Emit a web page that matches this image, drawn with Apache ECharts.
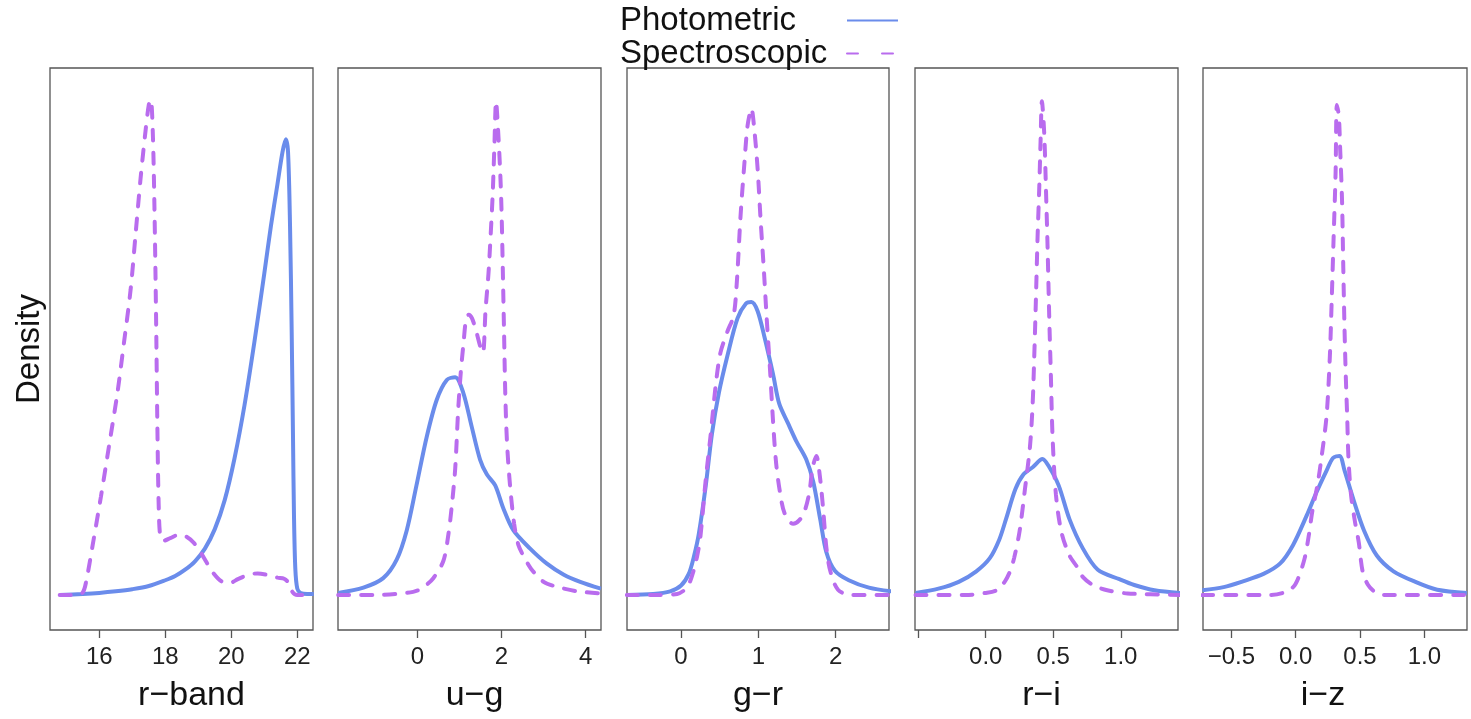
<!DOCTYPE html>
<html><head><meta charset="utf-8">
<script src="https://cdn.jsdelivr.net/npm/echarts@6/dist/echarts.min.js"></script>
<style>html,body{margin:0;padding:0;background:#fff}#c{width:1471px;height:719px}</style>
</head><body><div id="c"></div>
<script>
// ---- data ----
const panelNames = ['r\u2212band', 'u\u2212g', 'g\u2212r', 'r\u2212i', 'i\u2212z'];
const tickValues = [[16, 18, 20, 22], [0, 2, 4], [0, 1, 2], [-0.5, 0, 0.5, 1], [-0.5, 0, 0.5, 1]];
const labelValues = [[16, 18, 20, 22], [0, 2, 4], [0, 1, 2], [0, 0.5, 1], [-0.5, 0, 0.5, 1]];
const seriesNames = ['Photometric', 'Spectroscopic'];

const rbandPhot = [[14.8,0],[15.5,0.2],[16,0.4],[16.5,0.7],[17,1.1],[17.5,1.7],[18,2.8],[18.3,3.6],[18.6,4.8],[18.9,6.4],[19.2,8.8],[19.5,12.5],[19.8,18],[20.1,26],[20.4,36],[20.7,48],[21.0,61],[21.2,70],[21.4,78],[21.55,84],[21.65,86.5],[21.72,84],[21.78,70],[21.83,50],[21.87,30],[21.9,15],[21.94,5],[22.0,1.2],[22.1,0.4],[22.3,0.2],[22.5,0.2]];
const rbandSpec = [[14.8,0],[15.3,0],[15.5,0.5],[15.6,2.5],[15.8,9.5],[16.05,18.7],[16.3,28.5],[16.55,38.4],[16.75,48],[16.95,58],[17.1,68.5],[17.25,79],[17.4,88],[17.5,93],[17.56,94],[17.62,88],[17.67,74],[17.72,53],[17.76,32],[17.8,17],[17.85,11],[17.95,10.3],[18.15,10.8],[18.4,11.4],[18.6,11.2],[18.85,10],[19.05,8.3],[19.25,6.2],[19.45,4.2],[19.7,2.6],[19.95,2.3],[20.2,3],[20.5,3.8],[20.8,4.1],[21.1,3.8],[21.4,3.3],[21.6,3.1],[21.75,2.2],[21.85,0.6],[22,0],[22.2,0]];

const ugPhot = [[-1.88,0.4],[-1.28,1.4],[-0.81,3.2],[-0.49,6.7],[-0.25,12.3],[-0.02,20.8],[0.22,29.9],[0.46,37],[0.7,40.8],[0.9,41.3],[1.09,38.4],[1.29,32],[1.49,25.7],[1.65,22.9],[1.85,20.8],[2.04,16.5],[2.28,12.3],[2.68,8.8],[3.07,6.0],[3.47,3.9],[3.87,2.5],[4.36,1.2]];
const ugSpec = [[-1.88,0],[-1.0,0],[-0.5,0.2],[-0.1,0.6],[0.1,1.2],[0.38,3.2],[0.62,6.5],[0.74,11.6],[0.82,17],[0.9,24],[0.97,35],[1.03,42],[1.1,48],[1.16,52.5],[1.22,53.2],[1.3,52.5],[1.4,50],[1.5,47],[1.56,46],[1.62,54],[1.69,61],[1.74,68],[1.79,76],[1.83,85],[1.87,93.7],[1.92,88],[1.97,80],[2.0,73],[2.03,62],[2.06,50],[2.09,38],[2.13,29],[2.2,21],[2.3,13.5],[2.4,9.5],[2.55,7],[2.7,5],[3.0,2.5],[3.3,1.6],[3.8,0.7],[4.36,0.3]];

const grPhot = [[-0.7,0],[-0.36,0.2],[-0.14,0.7],[0.0,1.8],[0.1,4],[0.17,7.5],[0.23,11.6],[0.32,20.8],[0.4,30.6],[0.49,38.4],[0.6,45.4],[0.73,52.5],[0.84,55.3],[0.91,55.6],[0.99,53.9],[1.08,48.9],[1.19,41.9],[1.27,36.3],[1.38,32.7],[1.49,29.2],[1.62,25.7],[1.71,21.5],[1.8,14.4],[1.88,8.1],[1.99,4.6],[2.17,2.8],[2.43,1.4],[2.72,0.7]];
const grSpec = [[-0.7,0],[-0.3,0],[-0.05,0.2],[0.08,1.5],[0.16,4.5],[0.21,7.5],[0.25,11],[0.32,22],[0.38,30],[0.45,40],[0.51,46],[0.6,50],[0.68,53],[0.72,59],[0.77,72],[0.82,82],[0.86,89],[0.91,92.3],[0.95,88],[0.99,81],[1.03,71],[1.07,62],[1.11,52],[1.15,43],[1.19,33],[1.23,25],[1.28,19.5],[1.34,15.5],[1.45,13.5],[1.53,14.2],[1.6,16],[1.66,19.5],[1.7,24],[1.75,26.4],[1.8,22],[1.84,16],[1.88,9],[1.93,4.6],[2.03,1],[2.2,0],[2.72,0]];

const riPhot = [[-0.52,0.4],[-0.35,1.2],[-0.2,2.5],[-0.07,4.5],[0.03,7],[0.1,10.5],[0.15,14.4],[0.22,20.1],[0.28,22.9],[0.35,24.3],[0.42,25.8],[0.47,24.3],[0.54,20.8],[0.62,14.4],[0.72,8.8],[0.83,4.8],[0.99,3],[1.1,1.9],[1.25,0.9],[1.44,0.4]];
const riSpec = [[-0.52,0],[-0.15,0],[0.0,0.4],[0.08,0.9],[0.14,2.5],[0.18,4.5],[0.21,7],[0.25,12],[0.29,20],[0.327,28],[0.347,36],[0.359,45],[0.371,55.6],[0.384,68],[0.396,77],[0.406,86],[0.416,93.7],[0.433,87.7],[0.446,77],[0.458,66],[0.47,53],[0.482,42],[0.495,30],[0.52,19],[0.56,12],[0.62,7.5],[0.68,5.2],[0.72,3.4],[0.8,1.8],[0.9,0.9],[1.05,0.3],[1.44,0]];

const izPhot = [[-0.725,0.9],[-0.56,1.5],[-0.41,2.6],[-0.25,4],[-0.12,6],[-0.02,9.5],[0.086,15.1],[0.16,19.4],[0.24,23.6],[0.29,26],[0.34,26.4],[0.38,23.6],[0.45,18],[0.53,12.3],[0.63,7.5],[0.76,4.5],[0.94,2.4],[1.1,1.0],[1.33,0.4]];
const izSpec = [[-0.725,0],[-0.2,0],[-0.1,0.4],[-0.02,1.5],[0.02,3.2],[0.07,7],[0.1,11],[0.13,16],[0.17,21],[0.2,26],[0.24,34],[0.265,45],[0.28,56],[0.295,68],[0.31,80],[0.32,93],[0.335,91],[0.345,85],[0.36,75],[0.37,62],[0.38,50],[0.39,41],[0.40,34],[0.41,26],[0.43,19],[0.46,14],[0.49,10],[0.52,4.5],[0.56,2],[0.62,0.5],[0.7,0],[1.33,0]];

const photData = [rbandPhot, ugPhot, grPhot, riPhot, izPhot];
const specData = [rbandSpec, ugSpec, grSpec, riSpec, izSpec];

// ---- layout / style ----
const FONT = 'Liberation Sans, Arial, Helvetica, sans-serif';
const lefts  = [50, 338, 627, 915, 1203];
const widths = [263, 263, 262, 263, 264];
const xMins  = [14.506, -1.884, -0.699, -0.524, -0.720];
const xMaxs  = [22.476, 4.363, 2.690, 1.424, 1.331];
const decimals = [0, 0, 0, 1, 1];
const nameShift = [10, 5, 0, -5, -12];
const BLUE = '#6a8ceb', PURPLE = '#b96cee';

const grid = [], xAxis = [], yAxis = [], series = [];
for (let i = 0; i < 5; i++) {
  grid.push({ left: lefts[i], width: widths[i], top: 68, height: 562, show: true,
    borderColor: '#555', borderWidth: 1.3, backgroundColor: 'transparent' });
  const sh = nameShift[i];
  xAxis.push({ type: 'value', gridIndex: i, min: xMins[i], max: xMaxs[i],
    splitLine: { show: false },
    axisLine: { show: false, onZero: false },
    axisTick: { show: true, length: 8, inside: false, customValues: tickValues[i], lineStyle: { color: '#555', width: 1.3 } },
    axisLabel: { customValues: labelValues[i], margin: 15, fontSize: 24, color: '#222', fontFamily: FONT,
      formatter: v => (decimals[i] ? Number(v).toFixed(1) : String(v)).replace('-', '\u2212') },
    name: panelNames[i], nameLocation: 'middle', nameGap: 49,
    nameTextStyle: { fontSize: 34, color: '#111', fontFamily: FONT,
      padding: sh >= 0 ? [0, 0, 0, 2 * sh] : [0, -2 * sh, 0, 0] }
  });
  yAxis.push({ type: 'value', gridIndex: i, min: -6.64, max: 100, show: i === 0,
    splitLine: { show: false }, axisLine: { show: false }, axisTick: { show: false }, axisLabel: { show: false },
    name: i === 0 ? 'Density' : '', nameLocation: 'middle', nameGap: 4,
    nameTextStyle: { fontSize: 33, color: '#111', fontFamily: FONT } });
  series.push({ type: 'line', name: seriesNames[0], xAxisIndex: i, yAxisIndex: i, data: photData[i],
    symbol: 'none', smooth: 0.3, color: BLUE, itemStyle: { color: BLUE },
    lineStyle: { color: BLUE, width: 4 }, z: 2 });
  series.push({ type: 'line', name: seriesNames[1], xAxisIndex: i, yAxisIndex: i, data: specData[i],
    symbol: 'none', smooth: 0.3, color: PURPLE, itemStyle: { color: PURPLE },
    lineStyle: { color: PURPLE, width: 4, type: [11, 12], cap: 'round' }, z: 3 });
}

const chart = echarts.init(document.getElementById('c'), null, { renderer: 'canvas' });
chart.setOption({
  animation: false,
  backgroundColor: '#fff',
  legend: {
    data: [{ name: seriesNames[0] }, { name: seriesNames[1], lineStyle: { type: [11, 24], cap: 'round' } }],
    orient: 'vertical', left: 620, top: 4, align: 'right', padding: 0,
    itemWidth: 51, itemHeight: 4, itemGap: 0, selectedMode: false,
    itemStyle: { opacity: 0 },
    formatter: n => '{n|' + n + '}',
    textStyle: { fontFamily: FONT, fontSize: 33, color: '#111',
      rich: { n: { width: 222, align: 'left', fontSize: 33, lineHeight: 26, fontFamily: FONT, color: '#111' } } }
  },
  grid, xAxis, yAxis, series
});
</script>
</body></html>
